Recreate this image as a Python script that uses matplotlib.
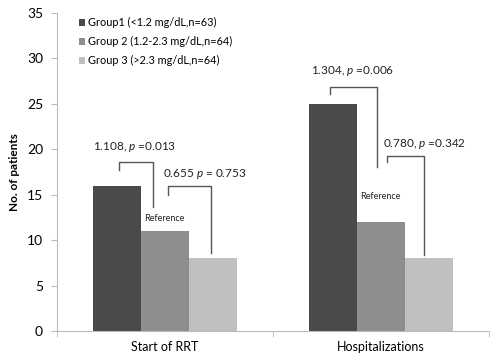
import matplotlib
matplotlib.use("Agg")
import matplotlib.pyplot as plt
import numpy as np

plt.rcParams['font.family'] = ['Lato', 'DejaVu Sans']
plt.rcParams['mathtext.fontset'] = 'custom'
plt.rcParams['mathtext.it'] = 'Lato:italic'
plt.rcParams['mathtext.rm'] = 'Lato'

categories = ["Start of RRT", "Hospitalizations"]
groups = ["Group1 (<1.2 mg/dL,n=63)", "Group 2 (1.2-2.3 mg/dL,n=64)", "Group 3 (>2.3 mg/dL,n=64)"]
values = {
    groups[0]: [16, 25],
    groups[1]: [11, 12],
    groups[2]: [8, 8],
}
colors = ["#4a4a4a", "#8e8e8e", "#c0c0c0"]
yticks = [0, 5, 10, 15, 20, 25, 30, 35]

# annotations: (text, text x, text y), bracket (x_left, x_right, y_top, y_left_bottom, y_right_bottom)
annotations = [
    ("1.108, $p$ =0.013", -0.139, 20.25, (-0.213, -0.056, 18.6, 17.7, 13.65)),
    ("0.655 $p$ = 0.753", 0.183, 17.28, (0.014, 0.213, 15.96, 14.97, 8.58)),
    ("1.304, $p$ =0.006", 0.870, 28.6, (0.764, 0.981, 26.85, 26.08, 18.05)),
    ("0.780, $p$ =0.342", 1.201, 20.58, (1.028, 1.199, 19.26, 18.6, 8.36)),
]
ref_labels = [(-0.005, 12.33), (0.998, 14.75)]

fig = plt.figure(figsize=(5.0, 3.62), dpi=100)
ax = fig.add_axes([0.114, 0.0856, 0.864, 0.8785])

x = np.arange(len(categories))
w = 0.222
for i, g in enumerate(groups):
    ax.bar(x + (i - 1) * w, values[g], width=w, color=colors[i], label=g, zorder=2)

for txt, tx, ty, (xl, xr, yt, ylb, yrb) in annotations:
    ax.plot([xl, xl, xr, xr], [ylb, yt, yt, yrb], color="#555555", lw=1.0, zorder=3)
    ax.text(tx, ty, txt, ha="center", va="center", fontsize=8.5, color="#222222")
for rx, ry in ref_labels:
    ax.text(rx, ry, "Reference", ha="center", va="center", fontsize=6.5, color="#222222")

ax.set_xlim(-0.5, 1.5)
ax.set_ylim(0, 35)
ax.set_yticks(yticks)
ax.set_xticks(x)
ax.set_xticklabels(categories, fontsize=9)
ax.set_xticks([-0.5, 0.5, 1.5], minor=True)
ax.tick_params(axis='x', which='major', length=0, pad=7)
ax.tick_params(axis='x', which='minor', length=4, color="#bbbbbb", direction='out')
ax.tick_params(axis='y', length=4, color="#bbbbbb", labelsize=10, pad=6)

for s in ["top", "right"]:
    ax.spines[s].set_visible(False)
for s in ["left", "bottom"]:
    ax.spines[s].set_color("#bbbbbb")
    ax.spines[s].set_linewidth(0.8)

ax.set_ylabel("No. of patients", fontsize=8.5, fontweight="bold", labelpad=5)

leg = ax.legend(loc="upper left", bbox_to_anchor=(0.04, 1.0), frameon=False, fontsize=7.8,
                handlelength=0.6, handleheight=0.6, handletextpad=0.3, labelspacing=0.72,
                borderaxespad=0.0)

fig.savefig("out.png", dpi=100)
